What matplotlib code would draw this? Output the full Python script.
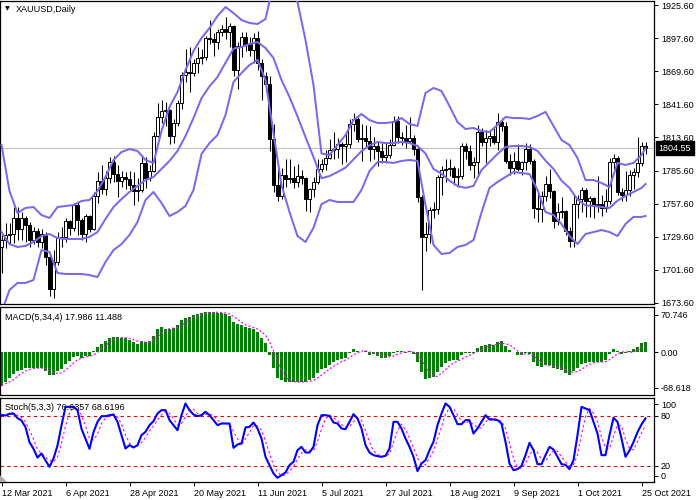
import numpy as np
import pandas as pd
import matplotlib
matplotlib.use('Agg')
import matplotlib.pyplot as plt
import matplotlib.transforms as mtransforms
from matplotlib.patches import Polygon

plt.rcParams['font.family'] = ['Liberation Sans', 'DejaVu Sans']
plt.rcParams['font.size'] = 6.5

# ---------------- data ----------------
first_open = 1721.0
closes = [1727, 1731, 1731.5, 1745, 1736, 1745, 1739, 1727, 1734, 1725,
          1732, 1712, 1685, 1708, 1728, 1729, 1743, 1737, 1756, 1744,
          1732, 1747, 1736, 1764, 1777, 1770, 1779, 1793, 1783, 1777,
          1780, 1778, 1773, 1768, 1769, 1792, 1779, 1785, 1815, 1831,
          1836, 1837, 1815, 1826, 1843, 1867, 1869, 1868, 1877, 1881,
          1882, 1898, 1897, 1895, 1903, 1906, 1903, 1908, 1871, 1891,
          1899, 1893, 1888, 1898, 1877, 1866, 1859, 1812, 1773, 1764,
          1782, 1778, 1779, 1776, 1781, 1779, 1761, 1770, 1776, 1787,
          1791, 1796, 1803, 1804, 1808, 1806, 1808, 1825, 1829, 1812,
          1813, 1811, 1804, 1806, 1802, 1797, 1799, 1807, 1828, 1814,
          1813, 1811, 1813, 1804, 1763, 1729, 1732, 1752, 1753, 1780,
          1786, 1787, 1788, 1780, 1781, 1806, 1802, 1790, 1793, 1818,
          1810, 1813, 1815, 1810, 1827, 1823, 1794, 1788, 1794, 1787,
          1793, 1804, 1794, 1754, 1753, 1764, 1774, 1768, 1743, 1750,
          1751, 1734, 1726, 1757, 1761, 1769, 1760, 1762, 1756, 1757,
          1754, 1760, 1793, 1796, 1767, 1765, 1769, 1782, 1784, 1792,
          1806, 1804.55]
highs = [1731, 1741, 1741, 1755, 1755, 1750, 1747, 1742, 1738, 1737,
         1736, 1733, 1714, 1718, 1733, 1738, 1745, 1744, 1758, 1759,
         1745, 1749, 1748, 1767, 1784, 1790, 1785, 1797, 1798, 1790,
         1785, 1784, 1785, 1784, 1779, 1799, 1797, 1790, 1818, 1843,
         1845, 1844, 1838, 1829, 1845, 1869, 1889, 1890, 1880, 1890,
         1889, 1900, 1913, 1902, 1906, 1909, 1916, 1911, 1909, 1895,
         1903, 1903, 1899, 1902, 1904, 1880, 1869, 1866, 1825, 1792,
         1788, 1795, 1795, 1789, 1791, 1786, 1780, 1771, 1780, 1795,
         1795, 1803, 1812, 1818, 1813, 1810, 1818, 1829, 1834, 1831,
         1825, 1824, 1823, 1814, 1811, 1809, 1810, 1812, 1832, 1832,
         1818, 1824, 1831, 1816, 1806, 1765, 1742, 1755, 1759, 1782,
         1789, 1795, 1795, 1789, 1788, 1809, 1809, 1807, 1797, 1824,
         1822, 1820, 1820, 1822, 1834, 1830, 1827, 1800, 1801, 1808,
         1794, 1809, 1808, 1795, 1769, 1768, 1781, 1787, 1769, 1758,
         1763, 1752, 1738, 1765, 1765, 1772, 1771, 1764, 1763, 1781,
         1765, 1770, 1796, 1800, 1798, 1771, 1785, 1786, 1788, 1814,
         1810, 1810]
lows = [1699, 1720, 1723, 1724, 1727, 1727, 1725, 1721, 1723, 1721,
        1720, 1705, 1679, 1677, 1705, 1721, 1725, 1731, 1734, 1731,
        1727, 1725, 1733, 1735, 1758, 1766, 1765, 1775, 1776, 1763,
        1772, 1770, 1769, 1756, 1760, 1767, 1771, 1777, 1784, 1814,
        1826, 1823, 1808, 1809, 1823, 1838, 1861, 1852, 1866, 1868,
        1876, 1879, 1893, 1883, 1889, 1900, 1897, 1890, 1866, 1855,
        1882, 1887, 1883, 1877, 1871, 1845, 1853, 1802, 1767, 1760,
        1761, 1772, 1775, 1771, 1772, 1774, 1751, 1750, 1763, 1774,
        1784, 1786, 1795, 1795, 1796, 1791, 1793, 1805, 1819, 1810,
        1794, 1805, 1794, 1795, 1789, 1792, 1792, 1796, 1806, 1809,
        1807, 1805, 1809, 1799, 1759, 1684, 1717, 1724, 1745, 1749,
        1765, 1776, 1781, 1773, 1772, 1778, 1795, 1786, 1779, 1781,
        1806, 1792, 1806, 1808, 1803, 1819, 1792, 1782, 1783, 1785,
        1782, 1786, 1791, 1745, 1742, 1742, 1760, 1762, 1737, 1739,
        1745, 1731, 1721, 1721, 1745, 1750, 1746, 1746, 1745, 1750,
        1747, 1750, 1757, 1787, 1765, 1760, 1760, 1764, 1770, 1780,
        1789, 1800]

# Bollinger bands read at every second bar (plus the last bar)
band_idx = list(range(0, 161, 2)) + [161]
bb_upper = [1807.2, 1768.2, 1749.5, 1753.8, 1754.6, 1747.8, 1745.3, 1754.6, 1755.5, 1756.3,
            1759.7, 1760.6, 1768.2, 1780.1, 1794.5, 1801.3, 1803.8, 1802.2, 1794.5, 1792.0,
            1819.1, 1839.5, 1852.2, 1870.9, 1887.0, 1898.0, 1906.5, 1916.7, 1924.3, 1919.2,
            1913.3, 1910.8, 1909.9, 1914.1, 1944.0, 1951.0, 1946.0, 1928.6, 1896.3, 1858.0,
            1800.0, 1798.7, 1807.2, 1815.7, 1828.4, 1833.5, 1828.4, 1825.9, 1825.9, 1826.7,
            1830.1, 1825.0, 1823.4, 1851.4, 1855.6, 1853.1, 1840.3, 1826.7, 1820.8, 1821.7,
            1819.1, 1818.3, 1824.2, 1831.0, 1830.1, 1830.1, 1829.3, 1831.9, 1835.3, 1823.4,
            1811.5, 1807.2, 1796.2, 1777.5, 1777.5, 1775.0, 1771.6, 1792.0, 1790.3, 1792.0,
            1798.7, 1804.7]
bb_middle = [1733.4, 1723.2, 1720.7, 1721.6, 1725.0, 1730.0, 1731.7, 1728.3, 1727.5, 1727.5,
             1727.5, 1729.2, 1733.4, 1744.5, 1754.6, 1761.4, 1767.4, 1772.5, 1777.5, 1780.1,
             1786.9, 1793.7, 1802.2, 1814.9, 1830.1, 1847.0, 1857.0, 1865.0, 1877.0, 1889.0,
             1890.4, 1892.9, 1894.6, 1889.5, 1881.0, 1862.4, 1848.0, 1831.5, 1814.0, 1797.0,
             1779.0, 1780.9, 1784.3, 1788.0, 1795.0, 1802.0, 1807.0, 1809.8, 1808.9, 1808.9,
             1809.8, 1808.9, 1806.4, 1800.0, 1786.9, 1783.0, 1777.0, 1772.5, 1770.8, 1772.5,
             1786.0, 1792.8, 1799.6, 1805.6, 1806.4, 1806.4, 1805.6, 1802.2, 1794.0, 1787.0,
             1777.0, 1770.8, 1761.0, 1756.0, 1755.5, 1754.6, 1753.8, 1760.0, 1764.0, 1767.4,
             1770.8, 1774.1]
bb_lower = [1665.5, 1684.2, 1690.2, 1690.2, 1692.7, 1718.1, 1716.5, 1698.6, 1697.8, 1697.8,
            1697.8, 1696.9, 1695.2, 1708.0, 1718.1, 1723.2, 1730.9, 1741.9, 1760.6, 1767.4,
            1758.0, 1747.0, 1750.4, 1755.5, 1769.1, 1799.6, 1808.9, 1815.7, 1832.7, 1860.7,
            1868.3, 1875.1, 1879.4, 1862.4, 1817.4, 1773.3, 1750.4, 1730.0, 1725.0, 1737.0,
            1757.0, 1760.6, 1758.9, 1758.9, 1758.9, 1769.1, 1785.2, 1792.8, 1792.8, 1792.0,
            1793.7, 1794.5, 1793.7, 1756.3, 1722.4, 1714.8, 1715.6, 1720.7, 1722.4, 1726.6,
            1750.0, 1770.8, 1775.9, 1780.1, 1784.3, 1783.5, 1782.6, 1769.1, 1750.4, 1747.8,
            1740.2, 1730.0, 1723.2, 1731.7, 1733.4, 1735.1, 1733.4, 1730.0, 1740.2, 1746.2,
            1746.2, 1747.0]

macd = [-59, -52, -45, -38.5, -34, -31.5, -28.6, -28.6, -27.5, -27.5,
        -28.6, -33, -41, -41, -34, -30, -21.6, -15.8, -9.3, -7.5,
        -9.9, -6.4, -6.4, 1.8, 9.5, 13.4, 19.8, 25.2, 27, 25.7,
        24, 24, 21, 18, 14, 19.3, 18, 19.3, 28, 39.7,
        44.5, 40.3, 40.3, 42.8, 47.4, 56.2, 60.3, 62, 65, 66,
        68, 69.6, 70.7, 69.6, 69, 68, 66, 63, 52, 48.6,
        47.4, 43.4, 41.6, 40.3, 35.7, 25.2, 16.5, -5.2, -28.6, -45,
        -49, -52, -53, -53, -52, -52, -52, -49, -45, -37,
        -30, -28.6, -22.8, -18, -14, -12.3, -11, -1.2, 5.3, 1.8,
        1, 1.8, -5.2, -3.5, -6.4, -9.9, -9.9, -7, -1.2, 1.8,
        1.8, -1.2, 1.8, -3, -17, -34.5, -47.3, -45, -43, -34.5,
        -25.7, -19.9, -15.8, -14.6, -14, -5.2, -1.2, -1.2, -1.2, 7.6,
        10.5, 12.3, 14, 12.3, 17, 19.3, 10.5, 3.5, -0.6, -5.2,
        -5.2, -2.3, -4, -17, -24, -25.7, -22.8, -22.8, -28.6, -30.4,
        -31.5, -36.2, -40.3, -32.7, -27.5, -21.6, -19.9, -17, -17, -17,
        -18, -14.6, -4, 5.3, 1.8, -3, -2, 1.2, 5.3, 8.8,
        15.8, 17.986]

stoch_k = [80.5, 80, 82, 82.5, 76.8, 74, 66, 48, 40, 29.5,
           34.4, 26, 18.4, 28.4, 44, 68, 90.4, 90.4, 90.4, 86.4,
           64, 52, 40, 60, 72.4, 79.2, 79.2, 80.4, 81.2, 72.4,
           56.4, 40.4, 44.4, 41.6, 44.4, 56.4, 60.4, 68.4, 73.2, 82.4,
           86.4, 86.4, 74.4, 68.4, 62.4, 80.4, 94.4, 86.4, 81.2, 79.2,
           80.4, 84.4, 80.4, 74.4, 68.4, 70.4, 70.4, 70.4, 41.2, 45.2,
           46.4, 65.6, 66.4, 71.6, 64.4, 52.4, 30.4, 20.4, 10.4, 5.2,
           8.4, 11.6, 20.4, 24.4, 38.4, 42.4, 35.6, 35.6, 42.4, 68.4,
           80.4, 80.4, 79.6, 71.6, 70.4, 64.4, 63.6, 72.4, 81.6, 76.4,
           64.4, 44.4, 35.6, 32.4, 31.2, 30.4, 31.6, 40.4, 72.4, 72.4,
           64.4, 52.4, 42.4, 30.4, 13.2, 22.4, 26.4, 38.4, 48.4, 68.4,
           82.4, 94.4, 90.4, 80.4, 69.6, 69.6, 74.4, 74.4, 58.4, 64.4,
           72.4, 80.4, 75.2, 75.2, 74.4, 70.4, 48.4, 22.4, 14.4, 15.6,
           19.6, 32.4, 47.2, 38.4, 21.6, 21.6, 32.4, 42.4, 39.2, 30.4,
           21.6, 20.8, 15.6, 26.4, 56.4, 90.4, 88.4, 86.4, 72.4, 58.4,
           32.4, 32.4, 56.4, 77.2, 72.4, 52.4, 30.4, 38, 48, 60,
           69.2, 76.64]

price_ticks = [1925.60, 1897.60, 1869.60, 1841.60, 1813.60, 1785.60,
               1757.60, 1729.60, 1701.60, 1673.60]
date_idx = [0, 16, 32, 48, 64, 80, 96, 112, 128, 144, 160]
date_labels = ['12 Mar 2021', '6 Apr 2021', '28 Apr 2021', '20 May 2021',
               '11 Jun 2021', '5 Jul 2021', '27 Jul 2021', '18 Aug 2021',
               '9 Sep 2021', '1 Oct 2021', '25 Oct 2021']
last_price = 1804.55
title_text = 'XAUUSD,Daily'
macd_text = 'MACD(5,34,4) 17.986 11.488'
stoch_text = 'Stoch(5,3,3) 76.6357 68.6196'

# ---------------- derived ----------------
c = np.array(closes, dtype=float)
h = np.array(highs, dtype=float)
l = np.array(lows, dtype=float)
o = np.concatenate([[first_open], c[:-1]])
x = np.arange(len(c))
macd_arr = np.array(macd, dtype=float)
macd_sig = pd.Series(macd_arr).rolling(4, min_periods=1).mean().values
k_arr = np.array(stoch_k, dtype=float)
d_arr = pd.Series(k_arr).rolling(3, min_periods=1).mean().values

# ---------------- figure ----------------
W, H = 700, 500
fig = plt.figure(figsize=(7, 5), dpi=100)
fig.patch.set_facecolor('white')
AW = 654 / W
ax1 = fig.add_axes([0, (H - 304) / H, AW, 303.5 / H])
ax2 = fig.add_axes([0, (H - 394.5) / H, AW, 87.5 / H])
ax3 = fig.add_axes([0, (H - 482) / H, AW, 84.5 / H])

xlim = (-0.375, 163.125)
for ax in (ax1, ax2, ax3):
    ax.set_xlim(*xlim)
    for s in ax.spines.values():
        s.set_color('black')
        s.set_linewidth(0.9)
    ax.yaxis.tick_right()
    ax.tick_params(axis='y', direction='out', length=3, width=0.7, pad=2,
                   labelsize=6.5, colors='black')
for ax in (ax1, ax2):
    ax.tick_params(axis='x', bottom=False, labelbottom=False)

# main price panel
ax1.set_ylim(1672.33, 1929.84)
ax1.axhline(last_price, color='#C0C0C0', lw=0.8, zorder=1)
ax1.vlines(x, l, h, color='black', lw=0.75, zorder=3)
bull = c >= o
body_bottom = np.minimum(o, c)
body_h = np.abs(c - o)
ax1.bar(x, body_h, bottom=body_bottom, width=0.6,
        color=np.where(bull, 'white', 'black'), edgecolor='black',
        linewidth=0.7, zorder=4)
band_col = '#7B68EE'
for band in (bb_upper, bb_middle, bb_lower):
    ax1.plot(band_idx, band, color=band_col, lw=1.45, zorder=5,
             solid_joinstyle='round')
ax1.set_yticks(price_ticks)
ax1.set_yticklabels([f'{v:.2f}' for v in price_ticks])
blend1 = mtransforms.blended_transform_factory(ax1.transAxes, ax1.transData)
ax1.text(1.0 + 4.5 / 654, last_price, f'{last_price:.2f}', transform=blend1,
         ha='left', va='center', color='white', fontsize=6.5, zorder=10,
         bbox=dict(boxstyle='square,pad=0.28', fc='black', ec='black'),
         clip_on=False)
ty = 1 - (9 - 0.5) / 303.5
ax1.text(5 / 654, ty, '\u25BC', transform=ax1.transAxes, ha='left', va='center',
         fontsize=4.5, family=['DejaVu Sans'], color='black')
ax1.text(16 / 654, ty, title_text, transform=ax1.transAxes, ha='left',
         va='center', fontsize=6.5, color='black')

# MACD panel
ax2.set_ylim(-74.3, 79.0)
ax2.bar(x, macd_arr, width=0.75, color='#008000', zorder=2)
ax2.plot(x, macd_sig, color='#FF00FF', lw=0.9, ls=(0, (1.6, 1.6)), zorder=3)
ax2.set_yticks([65.0, 0.0, -62.9])
ax2.set_yticklabels(['70.746', '0.00', '-68.618'])
ax2.text(5 / 654, 1 - (317 - 307) / 87.5, macd_text, transform=ax2.transAxes,
         ha='left', va='center', fontsize=6.5, color='black', zorder=6)

# Stochastic panel
ax3.set_ylim(0.2, 101.6)
ax3.axhline(80, color='#E00000', lw=0.8, ls=(0, (3, 3)), zorder=1)
ax3.axhline(20, color='#E00000', lw=0.8, ls=(0, (3, 3)), zorder=1)
ax3.plot(x, d_arr, color='#FF00FF', lw=0.8, ls=(0, (2.2, 2.2)), zorder=2)
ax3.plot(x, k_arr, color='#0000FF', lw=1.5, zorder=3)
ax3.set_yticks([7.8, 20, 80, 93.8])
ax3.set_yticklabels(['0', '20', '80', '100'])
ax3.text(5 / 654, 1 - (407 - 397.5) / 84.5, stoch_text, transform=ax3.transAxes,
         ha='left', va='center', fontsize=6.5, color='black', zorder=6)
ax3.add_patch(Polygon([[0, 0], [6 / 654, 0], [0, 6 / 84.5]], closed=True,
                      transform=ax3.transAxes, color='#A8A8A8', zorder=7))
ax3.set_xticks(date_idx)
ax3.set_xticklabels(date_labels)
ax3.tick_params(axis='x', direction='out', length=3, width=0.7, pad=2,
                labelsize=6.5, colors='black')
for lab in ax3.get_xticklabels():
    lab.set_horizontalalignment('left')

fig.savefig('out.png', dpi=100)
